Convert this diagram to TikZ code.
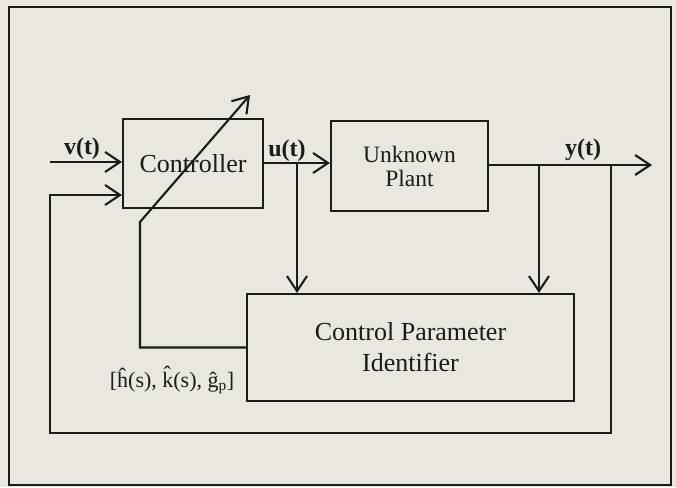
\documentclass[tikz,border=0pt]{standalone}
\usepackage{fontspec}
\setmainfont{Liberation Serif}
\usetikzlibrary{arrows.meta,positioning,calc}
\definecolor{paper}{RGB}{233,231,224}
\definecolor{ink}{RGB}{28,26,26}

\begin{document}
\begin{tikzpicture}[x=1pt,y=-1pt,line width=2.1pt,color=ink,
	block/.style={draw,rectangle,inner sep=0pt,align=center},
	sig/.style={-{Straight Barb[length=15pt,width=20pt]}},
	lbl/.style={font=\bfseries\fontsize{24}{26}\selectfont}]
% page and frame
\fill[paper] (0,0) rectangle (676,487);
\draw[line width=2.6pt] (9,7) rectangle (671,485);

% blocks
\node[block,minimum width=140,minimum height=89,font=\fontsize{26}{28}\selectfont] (ctrl) at (193,163.5) {Controller};
\node[block,minimum width=157,minimum height=90,font=\fontsize{23.5}{24}\selectfont] (plant) at (409.5,166) {Unknown\\Plant};
\node[block,minimum width=327,minimum height=107,font=\fontsize{26}{31}\selectfont] (ident) at (410.5,347.5) {Control Parameter\\Identifier};

% signal points
\coordinate (vin) at (50,162);
\coordinate (ubr) at (297,163);
\coordinate (ybr) at (539,165);
\coordinate (fbr) at (611,165);
\coordinate (yout) at (652,165);
\coordinate (fbin) at (50,195);
\coordinate (pk) at (140,222);
\coordinate (ptip) at (250,95);

\draw[sig] (vin) -- (vin -| ctrl.west);
\draw[sig] (ubr -| ctrl.east) -- (ubr -| plant.west);
\draw[sig] (ybr -| plant.east) -- (yout);
\foreach \b in {ubr,ybr}
	\draw[sig] (\b) -- (\b |- ident.north);
\draw[sig] (fbr) -- (fbr |- 0,433) -- (fbin |- 0,433) -- (fbin) -- (fbin -| ctrl.west);
\draw[sig] (ident.west) -- (ident.west -| pk) -- (pk) -- (ptip);

% labels
\node[lbl] (v) at (82,149) {v(t)};
\node[lbl] (u) at (287,151) {u(t)};
\node[lbl] (y) at (583,150) {y(t)};
\node[font=\fontsize{22}{24}\selectfont] (par) at (172,380) {[\^{h}(s), \^{k}(s), \^{g}\textsubscript{p}]};
\end{tikzpicture}
\end{document}
